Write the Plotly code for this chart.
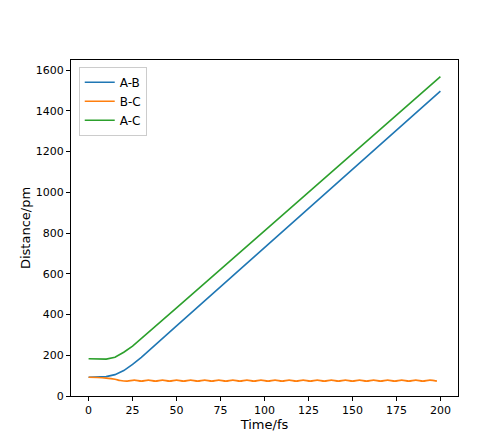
import plotly.graph_objects as go

# A-B and A-C distances (pm)
t_ab = [0, 5, 10, 15, 20, 25, 30, 50, 100, 150, 200]
ab = [92, 92, 95, 105, 125, 155, 190, 344, 729, 1113, 1497]

t_ac = [0, 5, 10, 15, 20, 25, 30, 50, 100, 150, 200]
ac = [183, 182, 181, 190, 215, 245, 282, 433, 811, 1190, 1568]

# B-C oscillates around ~75 pm
t_bc = [0, 5, 10, 15, 18] + list(range(22, 201, 4))
bc = [92, 91, 88, 82, 76] + [73 if i % 2 == 0 else 78 for i in range(len(range(22, 201, 4)))]

fig = go.Figure()
fig.add_trace(go.Scatter(x=t_ab, y=ab, name="A-B", mode="lines", line=dict(color="#1f77b4", width=1.6)))
fig.add_trace(go.Scatter(x=t_bc, y=bc, name="B-C", mode="lines", line=dict(color="#ff7f0e", width=1.6, shape="spline")))
fig.add_trace(go.Scatter(x=t_ac, y=ac, name="A-C", mode="lines", line=dict(color="#2ca02c", width=1.6)))

axis = dict(showgrid=False, zeroline=False, showline=True, mirror=True, linecolor="black",
            ticks="outside", ticklen=4, tickcolor="black", automargin=False)
fig.update_layout(
    width=500, height=436,
    margin=dict(l=63, r=50, t=52, b=48),
    plot_bgcolor="white", paper_bgcolor="white",
    font=dict(family="DejaVu Sans", size=11, color="black"),
    xaxis=dict(axis, range=[-10, 210], dtick=25, title=dict(text="Time/fs", standoff=2)),
    yaxis=dict(axis, range=[0, 1650], dtick=200, title=dict(text="Distance/pm", standoff=2)),
    legend=dict(x=0.02, y=0.98, xanchor="left", yanchor="top", bordercolor="#cccccc",
                borderwidth=1, bgcolor="white", font=dict(size=12)),
)
fig.write_html("out.html")
